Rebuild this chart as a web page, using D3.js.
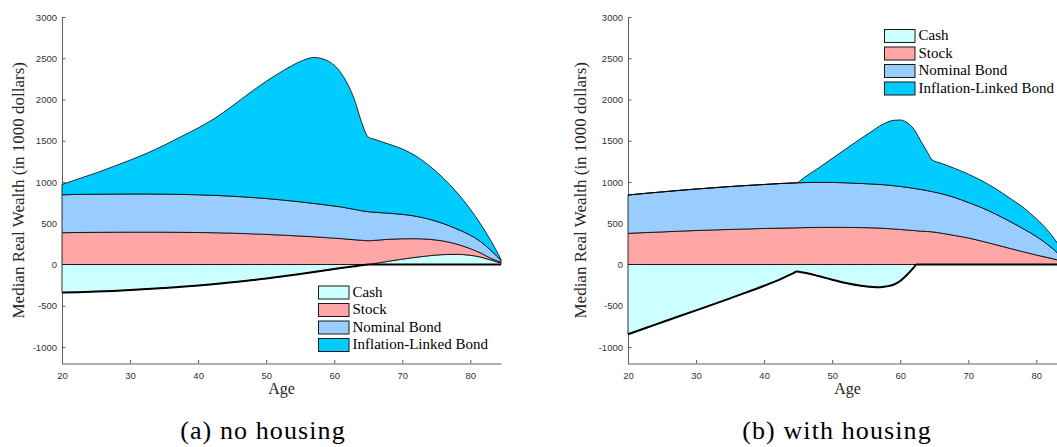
<!DOCTYPE html>
<html>
<head>
<meta charset="utf-8">
<script src="https://cdn.jsdelivr.net/npm/d3@7"></script>
<style>
  body { margin: 0; background: #fff; }
  svg { display: block; }
</style>
</head>
<body>
<svg id="fig" width="1057" height="447"></svg>
<script>
// Portfolio composition of median real wealth over the life cycle (1000 dollars)
const seriesNames = ["Cash", "Stock", "Nominal Bond", "Inflation-Linked Bond"];
const xTicks = [20, 30, 40, 50, 60, 70, 80];
const yTicks = [-1000, -500, 0, 500, 1000, 1500, 2000, 2500, 3000];

// (a) no housing
const agesNoHousing      = [20, 22.5, 25, 27.5, 30, 32.5, 35, 37.5, 40, 42.5, 45, 47.5, 50, 52.5, 55, 57, 59, 61, 63, 64, 65, 66, 68, 70, 72, 74, 76, 78, 80, 81.5, 83, 84, 84.5];
const cashNoHousing      = [-340, -335, -328, -320, -310, -298, -285, -270, -255, -237, -215, -193, -170, -143, -115, -91, -67, -43, -20, -9, 0, 12, 40, 65, 88, 107, 120, 123, 112, 90, 55, 30, 20];
const stockNoHousing     = [385, 388, 390, 391, 392, 392, 392, 390, 388, 385, 380, 373, 365, 356, 345, 336, 325, 314, 300, 294, 288, 281, 266, 247, 225, 198, 165, 124, 80, 50, 20, 12, 8];
const nominalNoHousing   = [460, 462, 462, 463, 463, 463, 461, 460, 457, 453, 448, 442, 435, 425, 415, 404, 395, 384, 368, 358, 352, 340, 316, 296, 272, 243, 212, 185, 163, 138, 97, 50, 20];
const inflationNoHousing = [125, 190, 258, 332, 410, 495, 592, 700, 810, 937, 1092, 1260, 1420, 1569, 1700, 1770, 1750, 1622, 1322, 1078, 905, 882, 838, 792, 730, 647, 553, 443, 315, 212, 118, 48, 12];

// (b) with housing
const agesWithHousing      = [20, 22.5, 25, 27.5, 30, 32.5, 35, 37.5, 40, 42.5, 44.3, 44.8, 45.3, 46, 48, 50, 52, 54, 56, 57, 58, 59, 60, 61, 62, 62.4, 63, 64, 64.7, 66, 68, 70, 72, 74, 76, 78, 80, 82, 84.5];
const cashWithHousing      = [-845, -772, -700, -628, -556, -484, -410, -335, -258, -175, -104, -84, -90, -100, -140, -185, -225, -255, -274, -277, -265, -245, -200, -125, -35, 0, 0, 0, 0, 0, 0, 0, 0, 0, 0, 0, 0, 0, 0];
const stockWithHousing     = [378, 387, 395, 404, 412, 419, 425, 431, 437, 441, 444, 445, 446, 447, 450, 451, 450, 448, 444, 441, 436, 431, 425, 418, 412, 409, 405, 400, 396, 380, 352, 322, 283, 241, 198, 155, 115, 78, 25];
const nominalWithHousing   = [464, 475, 485, 494, 503, 511, 520, 527, 533, 541, 544, 545, 545, 546, 546, 544, 540, 535, 531, 529, 528, 525, 521, 517, 511, 509, 505, 495, 487, 480, 460, 430, 405, 371, 330, 282, 225, 142, 5];
const inflationWithHousing = [0, 0, 0, 0, 0, 0, 0, 0, 0, 0, 0, 0, 25, 67, 174, 290, 410, 532, 650, 710, 758, 792, 806, 785, 717, 672, 590, 465, 384, 368, 353, 343, 327, 308, 282, 258, 215, 160, 55];

const fillColors = ["#ccffff", "#ffa6a6", "#99ccff", "#00ccff"];
const keys = ["cash", "stock", "nominal", "inflation"];

const svg = d3.select("#fig");

// Positive holdings stack upward from zero, negative holdings hang below zero.
// Zero-sized layers sit on top of the positive stack so their outline follows it.
function offsetSigned(series, order) {
  const m = series[order[0]].length;
  for (let j = 0; j < m; ++j) {
    let yp = 0, yn = 0;
    for (let i = 0; i < order.length; ++i) {
      const d = series[order[i]][j];
      const dy = d[1] - d[0];
      if (dy >= 0) { d[0] = yp; d[1] = yp += dy; }
      else { d[1] = yn; d[0] = yn += dy; }
    }
  }
}

const panels = [
  { x0: 62, ages: agesNoHousing, cash: cashNoHousing, stock: stockNoHousing,
    nominal: nominalNoHousing, inflation: inflationNoHousing,
    legend: { x: 318.5, y: 286 }, yLabelX: 24, caption: "(a) no housing", captionX: 263 },
  { x0: 628, ages: agesWithHousing, cash: cashWithHousing, stock: stockWithHousing,
    nominal: nominalWithHousing, inflation: inflationWithHousing,
    legend: { x: 884.5, y: 29.5 }, yLabelX: 586, caption: "(b) with housing", captionX: 837 }
];

panels.forEach(p => {
  const x = d3.scaleLinear().domain([20, 84.5]).range([p.x0, p.x0 + 439]);
  const y = d3.scaleLinear().domain([-1200, 3000]).range([363.5, 17]);
  const g = svg.append("g");

  // axes (drawn beneath the areas)
  const yAxis = d3.axisLeft(y).tickValues(yTicks).tickFormat(d => String(d))
    .tickSizeInner(-3.5).tickSizeOuter(0).tickPadding(5);
  const xAxis = d3.axisBottom(x).tickValues(xTicks).tickFormat(d => String(d))
    .tickSizeInner(-3.5).tickSizeOuter(0).tickPadding(8.5);
  const ya = g.append("g").attr("transform", `translate(${p.x0},0)`).call(yAxis);
  const xa = g.append("g").attr("transform", `translate(0,${y(-1200)})`).call(xAxis);
  [ya, xa].forEach(a => {
    a.select(".domain").attr("stroke", "#5e5e5e").attr("stroke-width", 1);
    a.selectAll(".tick line").attr("stroke", "#5e5e5e").attr("stroke-width", 1);
    a.selectAll(".tick text").attr("fill", "#333").style("font-family", "'Liberation Sans', Arial, sans-serif").style("font-size", "9.5px");
  });

  const rows = p.ages.map((a, i) => ({
    age: a, cash: p.cash[i], stock: p.stock[i], nominal: p.nominal[i], inflation: p.inflation[i]
  }));
  const layers = d3.stack().keys(keys).order(d3.stackOrderNone).offset(offsetSigned)(rows);

  const area = d3.area()
    .x(d => x(d.data.age))
    .y0(d => y(d[0]))
    .y1(d => y(d[1]))
    .curve(d3.curveMonotoneX);

  g.append("g").selectAll("path").data(layers).join("path")
    .attr("d", area)
    .attr("fill", (d, i) => fillColors[i])
    .attr("stroke", "#000")
    .attr("stroke-width", 0.8)
    .attr("stroke-linejoin", "round");

  // heavier edge along the borrowed (negative) cash position
  const debtLine = d3.line()
    .x(d => x(d.age))
    .y(d => y(Math.min(d.cash, 0)))
    .curve(d3.curveMonotoneX);
  g.append("path").datum(rows)
    .attr("d", debtLine)
    .attr("fill", "none")
    .attr("stroke", "#000")
    .attr("stroke-width", 2);

  // legend
  const lg = g.append("g").attr("transform", `translate(${p.legend.x},${p.legend.y})`);
  seriesNames.forEach((name, i) => {
    const row = lg.append("g").attr("transform", `translate(0,${i * 17.5})`);
    row.append("rect").attr("width", 30.5).attr("height", 13)
      .attr("fill", fillColors[i]).attr("stroke", "#1a1a1a").attr("stroke-width", 1);
    row.append("text").attr("x", 34).attr("y", 10.8)
      .style("font-family", "'Liberation Serif', 'Times New Roman', serif")
      .style("font-size", "15px").attr("fill", "#000").text(name);
  });

  // axis titles
  g.append("text")
    .attr("transform", `translate(${p.yLabelX},${(17 + 363.5) / 2}) rotate(-90)`)
    .attr("text-anchor", "middle")
    .style("font-family", "'Liberation Serif', 'Times New Roman', serif")
    .style("font-size", "17px").attr("fill", "#262626")
    .text("Median Real Wealth (in 1000 dollars)");
  g.append("text")
    .attr("x", p.x0 + 439 / 2).attr("y", 394)
    .attr("text-anchor", "middle")
    .style("font-family", "'Liberation Serif', 'Times New Roman', serif")
    .style("font-size", "16px").attr("fill", "#262626")
    .text("Age");

  // sub-figure caption
  svg.append("text")
    .attr("x", p.captionX).attr("y", 439)
    .attr("text-anchor", "middle")
    .style("font-family", "'Liberation Serif', 'Times New Roman', serif")
    .style("font-size", "26px").style("letter-spacing", "1.1px").attr("fill", "#000")
    .text(p.caption);
});
</script>
</body>
</html>
